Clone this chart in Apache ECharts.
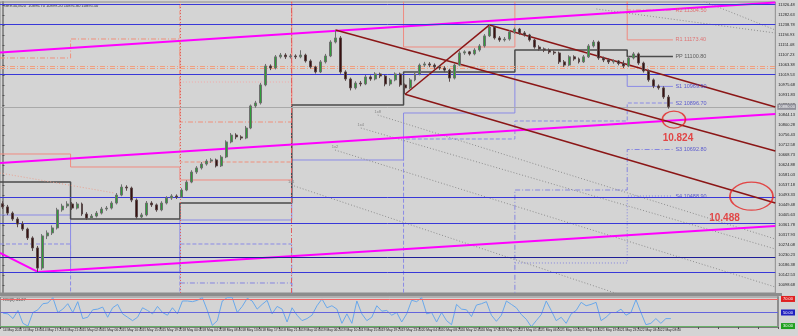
<!DOCTYPE html>
<html><head><meta charset="utf-8">
<script src="https://cdn.jsdelivr.net/npm/echarts@6/dist/echarts.min.js"></script>
<style>html,body{margin:0;padding:0;background:#d4d4d4;}#c{width:798px;height:336px;}</style>
</head><body><div id="c"></div>
<script>
// ---------- time axis tick labels (every 4th bar) ----------
const tickLabels = ['14 May 2020','14 May 13:00','14 May 17:20','14 May 21:40','15 May 02:00','15 May 06:20','15 May 10:40','15 May 15:00','15 May 19:20','18 May 00:00','18 May 04:20','18 May 08:40','18 May 13:00','18 May 17:20','18 May 21:40','19 May 02:00','19 May 06:20','19 May 10:40','19 May 15:00','19 May 19:20','19 May 23:40','20 May 04:00','20 May 08:20','20 May 12:40','20 May 17:00','20 May 21:20','21 May 01:40','21 May 06:00','21 May 10:20','21 May 14:40','21 May 19:00','21 May 23:20','22 May 03:40','22 May 08:00'];
const totalSlots = 156;

// ---------- price bars ----------
const opens = [10455,10441,10414,10388,10366,10344,10305,10261,10173,10314,
10327,10349,10428,10445,10454,10436,10454,10410,10392,10401,
10414,10432,10436,10458,10493,10528,10524,10471,10397,10406,
10458,10450,10428,10458,10480,10489,10485,10515,10550,10594,
10612,10629,10642,10647,10621,10660,10726,10756,10748,10743,
10787,10884,10897,10976,11059,11050,11099,11107,11099,11103,
11099,11107,11081,11055,11033,11077,11103,11164,11182,11033,
11002,10963,10984,10980,11011,11002,11024,11015,10980,10998,
11024,10976,10963,10998,11024,11063,11068,11063,11055,11050,
11041,11006,11063,11116,11121,11112,11129,11147,11191,11230,
11182,11173,11177,11208,11221,11204,11195,11173,11142,11134,
11129,11120,11116,11077,11063,11099,11090,11077,11099,11147,
11164,11094,11085,11077,11081,11070,11059,11094,11112,11072,
11037,10998,10971,10963,10923];
const closes = [10441,10414,10388,10366,10344,10305,10261,10173,10314,10327,
10349,10428,10445,10454,10436,10454,10410,10392,10401,10414,
10432,10436,10458,10493,10528,10524,10471,10397,10406,10458,
10450,10428,10458,10480,10489,10485,10515,10550,10594,10612,
10629,10642,10647,10621,10660,10726,10756,10748,10743,10787,
10884,10897,10976,11059,11050,11099,11107,11099,11103,11099,
11107,11081,11055,11033,11077,11103,11164,11182,11033,11002,
10963,10984,10980,11011,11002,11024,11015,10980,10998,11024,
10976,10963,10998,11024,11063,11068,11063,11055,11050,11041,
11006,11063,11116,11121,11112,11129,11147,11191,11230,11182,
11173,11177,11208,11221,11204,11195,11173,11142,11134,11129,
11120,11116,11077,11063,11099,11090,11077,11099,11147,11164,
11094,11085,11077,11081,11070,11059,11094,11112,11072,11037,
10998,10971,10963,10923,10880];
const lows = [10432,10405,10380,10352,10336,10296,10248,10156,10165,10300,
10318,10342,10420,10436,10428,10430,10402,10384,10385,10395,
10408,10424,10430,10452,10488,10512,10462,10390,10388,10400,
10441,10420,10422,10452,10472,10476,10480,10510,10545,10586,
10605,10622,10634,10614,10616,10655,10720,10738,10734,10738,
10782,10876,10890,10970,11041,11044,11092,11090,11092,11090,
11093,11074,11048,11026,11028,11070,11098,11158,11025,10994,
10952,10956,10970,10975,10994,10996,11006,10970,10972,10992,
10968,10935,10958,10992,11018,11055,11054,11046,11042,11032,
10990,11000,11058,11108,11105,11106,11122,11140,11186,11175,
11165,11166,11170,11200,11196,11188,11166,11135,11126,11120,
11112,11108,11068,11055,11058,11082,11070,11072,11094,11140,
11086,11076,11068,11069,11062,11050,11054,11088,11064,11030,
10990,10962,10955,10915,10872];
const highs = [10466,10450,10421,10396,10378,10350,10312,10270,10322,10338,
10360,10437,10455,10466,10462,10463,10460,10418,10410,10423,
10441,10445,10466,10502,10540,10536,10530,10478,10415,10467,
10466,10456,10466,10488,10497,10496,10523,10558,10602,10620,
10638,10650,10655,10653,10668,10733,10765,10764,10755,10796,
10890,10906,10985,11068,11066,11107,11116,11115,11112,11110,
11128,11113,11088,11060,11085,11112,11172,11217,11190,11040,
11008,10992,10993,11020,11018,11032,11030,11020,11006,11031,
11030,10982,11006,11032,11070,11077,11076,11070,11062,11058,
11047,11070,11124,11128,11125,11137,11155,11199,11239,11234,
11190,11186,11216,11228,11226,11212,11200,11178,11150,11140,
11136,11127,11122,11085,11106,11106,11096,11107,11155,11173,
11170,11100,11092,11088,11085,11083,11102,11120,11118,11078,
11044,11004,10978,10970,10932];

// ---------- RSI ----------
const rsi = [49,48,41,53,34,30,50,54,63,64,
72,50,55,63,50,66,41,43,54,55,
58,43,57,62,48,43,38,43,57,53,
48,59,50,46,57,48,67,67,66,68,
72,53,31,38,67,72,72,50,59,71,
67,55,62,68,48,59,55,36,57,46,
38,41,46,60,70,57,60,55,34,48,
34,67,48,38,43,60,52,53,46,50,
36,48,68,66,72,48,50,36,50,38,
32,62,55,54,44,61,63,66,46,37,
46,67,62,57,47,40,29,38,47,67,
53,38,43,34,48,53,65,60,62,65,
38,43,50,50,55,46,50,69,50,32,
34,41,34,41,41];
const rsiLevels = [70, 50, 30];

// ---------- price axis labels ----------
const yLabelValues = [11326.48,11282.63,11238.78,11194.93,11151.08,11107.23,11063.38,11019.53,10975.68,10931.83,10887.98,10844.13,10800.28,10756.43,10712.58,10668.73,10624.88,10581.03,10537.18,10493.33,10449.48,10405.63,10361.78,10317.93,10274.08,10230.23,10186.38,10142.53,10098.68];
const yMin = 10063.6, yMax = 11339.6;

// ---------- horizontal levels ----------
const blueLevels = [11330.9, 11243.2, 11024.0, 10485.6, 10370.5, 10156.1];
const navyLevels = [10221.5];
const salmonBand = [11059.0, 11048.0];
const bidPrice = 10880.0;

// ---------- daily pivot steps ----------
const dayEdges = [-0.5, 13.7, 35.7, 58.2, 80.7, 103.1, 125.7, 134.9];
const ppLv = [10550.3, 10388.1, 10458.3, 10888.0, 11032.7, 11129.2, 11100.8];
const r1Lv = [10673.1, 10616.1, 10559.1, 11420, 11142.3, 11420, 11173.4];
const r2Lv = [11094.1, 11177.4, 10813.4, 11480, 11480, 11480, 11304.5];
const rmLv = [null, 11480, 10638.0, null, null, null, null];
const rdLv = [null, null, 10988.8, null, null, null, null];
const s1Lv = [10405.6, 10155.7, 10383.7, 10646.8, 10852.9, 11019.5, 10969.5];
const s2Lv = [10278.5, 9990, 10278.5, 9990, 10738.9, 10817.8, 10896.7];
const s3Lv = [null, null, 10107.5, 9950, 9950, 10515.2, 10692.8];
const s4Lv = [null, null, null, null, null, 10195.2, 10488.9];
const pivotNames = ['R2 11304.50','R1 11173.40','PP 11100.80','S1 10969.50','S2 10896.70','S3 10692.80','S4 10488.90'];
const pivotValues = [11304.5, 11173.4, 11100.8, 10969.5, 10896.7, 10692.8, 10488.9];
const pivotLabelX = 135.3;

// ---------- trend lines (bar index, price) ----------
const magentaTop = [[-0.5, 11118.2], [155.5, 11337.4]];
const magentaMid = [[-0.5, 10633.6], [155.5, 10848.5]];
const magentaLow = [[-0.5, 10239.0], [7.1, 10156.1], [155.5, 10357.4]];
const channelA = [[67, 11217], [155.5, 10686.3]];
const channelB = [[98, 11239], [155.5, 10879.2]];
const channelC = [[81, 10935], [155.5, 10458.3]];
const channelUp = [[81, 10935], [98, 11239]];
const fanLines = [
  [[75.5, 10844.1], [155.5, 10300.4]],
  [[72.1, 10787.1], [155.5, 10256.5]],
  [[66.9, 10690.6], [155.5, 10089.9]],
  [[58.1, 10537.2], [127.5, 10032.9]],
  [[119.5, 11309.0], [155.5, 11203.7]],
  [[140.5, 11348.0], [155.5, 11216.9]]
];
const fanNames = ['1x8', '1x4', '1x2', '1x1'];
const pinkDotted = [[-0.5, 10589.8], [22.5, 10502.1]];
const separators = [35.7, 58.2];
const targetPoints = [[135.1, 10824], [150.7, 10488]];
const targetNames = ['10.824', '10.488'];

// ---------- build ----------
const categories = [];
for (let i = 0; i < totalSlots; i++) {
  categories.push(i % 4 === 0 && i / 4 < tickLabels.length ? tickLabels[i / 4] : '#' + i);
}
const candleData = opens.map((o, i) => [o, closes[i], lows[i], highs[i]]);
function stepData(levels) {
  const d = [];
  levels.forEach((lv, i) => {
    if (lv == null) { d.push(['-', '-']); return; }
    d.push([dayEdges[i], lv], [dayEdges[i + 1], lv]);
  });
  return d;
}
function lineSeries(data, color, width, type, extra) {
  return Object.assign({
    type: 'line', xAxisIndex: 1, yAxisIndex: 0, data: data, symbol: 'none', silent: true,
    animation: false, clip: true, connectNulls: false,
    lineStyle: { color: color, width: width, type: type || 'solid' }, z: 3
  }, extra || {});
}
const DASH = [4, 2], DASHDOT = [5, 2, 1, 2], DOT = [1, 2];
const FONT = 'Liberation Sans';

const series = [];
series.push(lineSeries(stepData(r2Lv), '#f0907c', 1, DASHDOT));
series.push(lineSeries(stepData(rmLv), '#f0907c', 1, DASH));
series.push(lineSeries(stepData(rdLv), '#f4a8a8', 1, DOT));
series.push(lineSeries(stepData(r1Lv), '#f08a80', 1, 'solid'));
series.push(lineSeries(stepData(s3Lv), '#8585e0', 1, DASHDOT));
series.push(lineSeries(stepData(s4Lv), '#8585e0', 1, DOT));
series.push(lineSeries(stepData(s2Lv), '#8a8ae6', 1, DASH));
series.push(lineSeries(stepData(s1Lv), '#8a8ae6', 1, 'solid'));
series.push(lineSeries(stepData(ppLv), '#4a4a4a', 1.5, 'solid'));
fanLines.forEach(f => series.push(lineSeries(f, '#8e8e8e', 1, DOT)));
series.push(lineSeries(pinkDotted, '#e8a090', 1, DOT));
series.push(lineSeries([], '#000', 1, 'solid', {
  markLine: {
    symbol: 'none', silent: true, animation: false, label: { show: false },
    data: blueLevels.map(v => ({ yAxis: v, lineStyle: { color: '#3838d8', width: 1, type: 'solid' } }))
      .concat(navyLevels.map(v => ({ yAxis: v, lineStyle: { color: '#1e1e96', width: 1, type: 'solid' } })))
      .concat(salmonBand.map(v => ({ yAxis: v, lineStyle: { color: '#f0a080', width: 1, type: DASHDOT } })))
      .concat([{ xAxis: separators[0], lineStyle: { color: '#e06060', width: 1, type: DOT } },
               { xAxis: separators[1], lineStyle: { color: '#e06060', width: 1, type: DASHDOT } }])
  }
}));
series.push(lineSeries(magentaTop, '#ff00ff', 2, 'solid', { z: 4 }));
series.push(lineSeries(magentaMid, '#ff00ff', 2, 'solid', { z: 4 }));
series.push(lineSeries(magentaLow, '#ff00ff', 2, 'solid', { z: 4 }));
[channelA, channelB, channelC, channelUp].forEach(c => series.push(lineSeries(c, '#8b1616', 1.5, 'solid', { z: 5 })));

series.push({
  type: 'candlestick', xAxisIndex: 0, yAxisIndex: 0, data: candleData, barMaxWidth: 3, animation: false, z: 6,
  itemStyle: { color: '#2f9e3a', color0: '#3a1212', borderColor: '#6f6f6f', borderColor0: '#5a4a4a', borderWidth: 1 },
  markLine: {
    symbol: 'none', silent: true, animation: false,
    data: [{ yAxis: bidPrice }],
    lineStyle: { color: '#a9a9a9', width: 1, type: 'solid' },
    label: { show: true, position: 'end', distance: 2, formatter: bidPrice.toFixed(2), backgroundColor: '#8f8f99', color: '#fff', fontSize: 4, fontFamily: FONT, padding: [1, 1] }
  }
});
series.push({
  type: 'scatter', xAxisIndex: 1, yAxisIndex: 0, symbolSize: 1, silent: true, animation: false, z: 8,
  itemStyle: { color: 'rgba(0,0,0,0)' },
  data: pivotNames.map((n, i) => ({
    name: n, value: [pivotLabelX, pivotValues[i]],
    label: { color: i < 2 ? '#e25c5c' : (i === 2 ? '#404040' : '#3b3bcc') }
  })),
  label: { show: true, position: 'right', distance: 0, formatter: '{b}', fontSize: 5.5, fontFamily: FONT }
});
series.push({
  type: 'scatter', xAxisIndex: 1, yAxisIndex: 0, symbolSize: 1, silent: true, animation: false, z: 8,
  itemStyle: { color: 'rgba(0,0,0,0)' },
  data: fanNames.map((n, i) => ({ name: n, value: fanLines[i][0] })),
  label: { show: true, position: 'top', distance: 1, formatter: '{b}', fontSize: 4, fontFamily: FONT, color: '#707070' }
});
series.push({
  type: 'scatter', xAxisIndex: 1, yAxisIndex: 0, silent: true, animation: false, z: 9,
  data: [
    { value: targetPoints[0], name: targetNames[0], symbolSize: [23, 17], label: { offset: [4, 19] } },
    { value: targetPoints[1], name: targetNames[1], symbolSize: [43, 28], label: { offset: [-27, 22] } }
  ],
  itemStyle: { color: 'rgba(0,0,0,0)', borderColor: '#e52222', borderWidth: 1.5 },
  label: { show: true, position: 'inside', formatter: '{b}', color: '#e52222', fontSize: 10, fontWeight: 'bold', fontFamily: FONT }
});
series.push({
  type: 'line', xAxisIndex: 2, yAxisIndex: 1, data: rsi, symbol: 'none', animation: false, silent: true,
  lineStyle: { color: '#6aa8ea', width: 1 },
  markLine: {
    symbol: 'none', silent: true, animation: false, label: { show: false },
    data: [
      { yAxis: rsiLevels[0], lineStyle: { color: '#f06262', width: 1, type: 'solid' } },
      { yAxis: rsiLevels[1], lineStyle: { color: '#6464dc', width: 1, type: 'solid' } },
      { yAxis: rsiLevels[2], lineStyle: { color: '#66b066', width: 1, type: 'solid' } }
    ]
  }
});

const chart = echarts.init(document.getElementById('c'), null, { renderer: 'canvas' });
chart.setOption({
  backgroundColor: '#d4d4d4',
  animation: false,
  textStyle: { fontFamily: FONT },
  grid: [
    { left: 0, top: 2, width: 780, height: 291, show: true, borderColor: '#8c8c8c', borderWidth: 1, backgroundColor: 'transparent' },
    { left: 0, top: 297, width: 780, height: 30, show: true, borderColor: '#8c8c8c', borderWidth: 1, backgroundColor: 'transparent' }
  ],
  xAxis: [
    { type: 'category', gridIndex: 0, data: categories, boundaryGap: true, show: false },
    { type: 'value', gridIndex: 0, min: -0.5, max: totalSlots - 0.5, show: false },
    { type: 'category', gridIndex: 1, data: categories, boundaryGap: true,
      axisLine: { show: true, lineStyle: { color: '#7a7a7a', width: 1 } },
      axisTick: { show: true, interval: 3, length: 2, lineStyle: { color: '#555' } },
      axisLabel: { show: true, interval: 3, fontSize: 3.3, color: '#202020', margin: 2, align: 'left',
        showMinLabel: true, showMaxLabel: false, hideOverlap: false,
        formatter: v => v.charAt(0) === '#' ? '' : v } }
  ],
  yAxis: [
    { type: 'value', gridIndex: 0, position: 'right', min: yMin, max: yMax, scale: true,
      splitLine: { show: false },
      axisLine: { show: true, lineStyle: { color: '#8c8c8c', width: 2 } },
      axisTick: { show: true, length: 2, customValues: yLabelValues, lineStyle: { color: '#555' } },
      axisLabel: { show: true, customValues: yLabelValues, fontSize: 4, color: '#222', margin: 3,
        formatter: v => v.toFixed(2) } },
    { type: 'value', gridIndex: 1, position: 'right', min: 28.6, max: 72.9,
      splitLine: { show: false },
      axisLine: { show: true, lineStyle: { color: '#8c8c8c', width: 2 } },
      axisTick: { show: false },
      axisLabel: { show: true, customValues: rsiLevels, fontSize: 4, margin: 3,
        formatter: v => v === 70 ? '{r|70.00}' : (v === 50 ? '{b|50.00}' : '{g|30.00}'),
        rich: {
          r: { backgroundColor: '#e02020', color: '#fff', fontSize: 4, padding: [1, 2] },
          b: { backgroundColor: '#2020c0', color: '#fff', fontSize: 4, padding: [1, 2] },
          g: { backgroundColor: '#20a020', color: '#fff', fontSize: 4, padding: [1, 2] }
        } } }
  ],
  graphic: [
    { type: 'rect', left: 0, top: 293, shape: { width: 782, height: 3 }, style: { fill: '#8c8c8c' }, silent: true },
    { type: 'text', left: 4, top: 4, style: { text: 'GER30,M20  10896.70 10899.20 10891.80 10895.50', fontSize: 4, fill: '#333', fontFamily: FONT }, silent: true },
    { type: 'text', left: 3, top: 298, style: { text: 'RSI(8) 41.27', fontSize: 4, fill: '#333', fontFamily: FONT }, silent: true }
  ],
  series: series
});
</script></body></html>
